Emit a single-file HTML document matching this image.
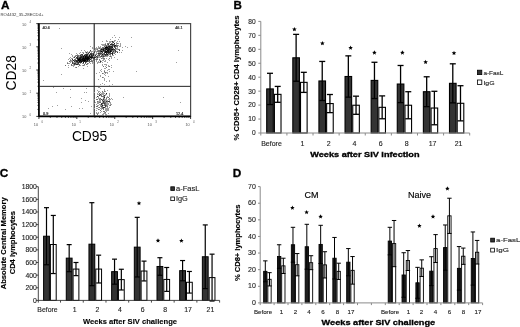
<!DOCTYPE html>
<html><head><meta charset="utf-8"><style>
html,body{margin:0;padding:0;background:#fff;}
svg{display:block;font-family:"Liberation Sans", sans-serif;filter:blur(0.35px);}
</style></head><body>
<svg width="520" height="327" viewBox="0 0 520 327">
<rect width="520" height="327" fill="#fff"/>
<rect x="266.71" y="88.92" width="6.60" height="44.08" fill="#333" stroke="#000" stroke-width="1.1"/>
<line x1="270.01" y1="73.29" x2="270.01" y2="104.54" stroke="#000" stroke-width="1.3"/>
<line x1="267.01" y1="73.29" x2="273.01" y2="73.29" stroke="#000" stroke-width="1.3"/>
<line x1="267.01" y1="104.54" x2="273.01" y2="104.54" stroke="#000" stroke-width="1.3"/>
<rect x="274.41" y="94.36" width="6.60" height="38.64" fill="#fff" stroke="#000" stroke-width="1.1"/>
<line x1="277.71" y1="86.41" x2="277.71" y2="102.31" stroke="#000" stroke-width="1.3"/>
<line x1="274.71" y1="86.41" x2="280.71" y2="86.41" stroke="#000" stroke-width="1.3"/>
<line x1="274.71" y1="102.31" x2="280.71" y2="102.31" stroke="#000" stroke-width="1.3"/>
<rect x="292.82" y="57.81" width="6.60" height="75.19" fill="#333" stroke="#000" stroke-width="1.1"/>
<line x1="296.12" y1="34.37" x2="296.12" y2="81.25" stroke="#000" stroke-width="1.3"/>
<line x1="293.12" y1="34.37" x2="299.12" y2="34.37" stroke="#000" stroke-width="1.3"/>
<line x1="293.12" y1="81.25" x2="299.12" y2="81.25" stroke="#000" stroke-width="1.3"/>
<rect x="300.52" y="82.36" width="6.60" height="50.64" fill="#fff" stroke="#000" stroke-width="1.1"/>
<line x1="303.82" y1="72.32" x2="303.82" y2="92.41" stroke="#000" stroke-width="1.3"/>
<line x1="300.82" y1="72.32" x2="306.82" y2="72.32" stroke="#000" stroke-width="1.3"/>
<line x1="300.82" y1="92.41" x2="306.82" y2="92.41" stroke="#000" stroke-width="1.3"/>
<rect x="318.93" y="80.97" width="6.60" height="52.03" fill="#333" stroke="#000" stroke-width="1.1"/>
<line x1="322.23" y1="61.44" x2="322.23" y2="100.50" stroke="#000" stroke-width="1.3"/>
<line x1="319.23" y1="61.44" x2="325.23" y2="61.44" stroke="#000" stroke-width="1.3"/>
<line x1="319.23" y1="100.50" x2="325.23" y2="100.50" stroke="#000" stroke-width="1.3"/>
<rect x="326.63" y="103.57" width="6.60" height="29.43" fill="#fff" stroke="#000" stroke-width="1.1"/>
<line x1="329.93" y1="94.50" x2="329.93" y2="112.63" stroke="#000" stroke-width="1.3"/>
<line x1="326.93" y1="94.50" x2="332.93" y2="94.50" stroke="#000" stroke-width="1.3"/>
<line x1="326.93" y1="112.63" x2="332.93" y2="112.63" stroke="#000" stroke-width="1.3"/>
<rect x="345.04" y="76.50" width="6.60" height="56.50" fill="#333" stroke="#000" stroke-width="1.1"/>
<line x1="348.34" y1="55.86" x2="348.34" y2="97.15" stroke="#000" stroke-width="1.3"/>
<line x1="345.34" y1="55.86" x2="351.34" y2="55.86" stroke="#000" stroke-width="1.3"/>
<line x1="345.34" y1="97.15" x2="351.34" y2="97.15" stroke="#000" stroke-width="1.3"/>
<rect x="352.74" y="105.24" width="6.60" height="27.76" fill="#fff" stroke="#000" stroke-width="1.1"/>
<line x1="356.04" y1="96.17" x2="356.04" y2="114.31" stroke="#000" stroke-width="1.3"/>
<line x1="353.04" y1="96.17" x2="359.04" y2="96.17" stroke="#000" stroke-width="1.3"/>
<line x1="353.04" y1="114.31" x2="359.04" y2="114.31" stroke="#000" stroke-width="1.3"/>
<rect x="371.16" y="80.41" width="6.60" height="52.59" fill="#333" stroke="#000" stroke-width="1.1"/>
<line x1="374.46" y1="62.27" x2="374.46" y2="98.54" stroke="#000" stroke-width="1.3"/>
<line x1="371.46" y1="62.27" x2="377.46" y2="62.27" stroke="#000" stroke-width="1.3"/>
<line x1="371.46" y1="98.54" x2="377.46" y2="98.54" stroke="#000" stroke-width="1.3"/>
<rect x="378.86" y="107.33" width="6.60" height="25.67" fill="#fff" stroke="#000" stroke-width="1.1"/>
<line x1="382.16" y1="95.89" x2="382.16" y2="118.77" stroke="#000" stroke-width="1.3"/>
<line x1="379.16" y1="95.89" x2="385.16" y2="95.89" stroke="#000" stroke-width="1.3"/>
<line x1="379.16" y1="118.77" x2="385.16" y2="118.77" stroke="#000" stroke-width="1.3"/>
<rect x="397.27" y="84.04" width="6.60" height="48.96" fill="#333" stroke="#000" stroke-width="1.1"/>
<line x1="400.57" y1="65.48" x2="400.57" y2="102.59" stroke="#000" stroke-width="1.3"/>
<line x1="397.57" y1="65.48" x2="403.57" y2="65.48" stroke="#000" stroke-width="1.3"/>
<line x1="397.57" y1="102.59" x2="403.57" y2="102.59" stroke="#000" stroke-width="1.3"/>
<rect x="404.97" y="105.24" width="6.60" height="27.76" fill="#fff" stroke="#000" stroke-width="1.1"/>
<line x1="408.27" y1="91.71" x2="408.27" y2="118.77" stroke="#000" stroke-width="1.3"/>
<line x1="405.27" y1="91.71" x2="411.27" y2="91.71" stroke="#000" stroke-width="1.3"/>
<line x1="405.27" y1="118.77" x2="411.27" y2="118.77" stroke="#000" stroke-width="1.3"/>
<rect x="423.38" y="91.71" width="6.60" height="41.29" fill="#333" stroke="#000" stroke-width="1.1"/>
<line x1="426.68" y1="76.78" x2="426.68" y2="106.63" stroke="#000" stroke-width="1.3"/>
<line x1="423.68" y1="76.78" x2="429.68" y2="76.78" stroke="#000" stroke-width="1.3"/>
<line x1="423.68" y1="106.63" x2="429.68" y2="106.63" stroke="#000" stroke-width="1.3"/>
<rect x="431.08" y="108.03" width="6.60" height="24.97" fill="#fff" stroke="#000" stroke-width="1.1"/>
<line x1="434.38" y1="91.29" x2="434.38" y2="124.77" stroke="#000" stroke-width="1.3"/>
<line x1="431.38" y1="91.29" x2="437.38" y2="91.29" stroke="#000" stroke-width="1.3"/>
<line x1="431.38" y1="124.77" x2="437.38" y2="124.77" stroke="#000" stroke-width="1.3"/>
<rect x="449.49" y="83.34" width="6.60" height="49.66" fill="#333" stroke="#000" stroke-width="1.1"/>
<line x1="452.79" y1="63.81" x2="452.79" y2="102.87" stroke="#000" stroke-width="1.3"/>
<line x1="449.79" y1="63.81" x2="455.79" y2="63.81" stroke="#000" stroke-width="1.3"/>
<line x1="449.79" y1="102.87" x2="455.79" y2="102.87" stroke="#000" stroke-width="1.3"/>
<rect x="457.19" y="103.29" width="6.60" height="29.71" fill="#fff" stroke="#000" stroke-width="1.1"/>
<line x1="460.49" y1="85.71" x2="460.49" y2="120.86" stroke="#000" stroke-width="1.3"/>
<line x1="457.49" y1="85.71" x2="463.49" y2="85.71" stroke="#000" stroke-width="1.3"/>
<line x1="457.49" y1="120.86" x2="463.49" y2="120.86" stroke="#000" stroke-width="1.3"/>
<line x1="260.80" y1="21.40" x2="260.80" y2="135.50" stroke="#8a8a8a" stroke-width="1"/>
<line x1="260.80" y1="133.00" x2="469.70" y2="133.00" stroke="#8a8a8a" stroke-width="1"/>
<line x1="258.30" y1="133.00" x2="260.80" y2="133.00" stroke="#8a8a8a" stroke-width="1"/>
<text x="255.60" y="135.38" font-size="6.6" text-anchor="end" fill="#222" stroke="#222" stroke-width="0.12">0</text>
<line x1="258.30" y1="119.05" x2="260.80" y2="119.05" stroke="#8a8a8a" stroke-width="1"/>
<text x="255.60" y="121.43" font-size="6.6" text-anchor="end" fill="#222" stroke="#222" stroke-width="0.12">10</text>
<line x1="258.30" y1="105.10" x2="260.80" y2="105.10" stroke="#8a8a8a" stroke-width="1"/>
<text x="255.60" y="107.48" font-size="6.6" text-anchor="end" fill="#222" stroke="#222" stroke-width="0.12">20</text>
<line x1="258.30" y1="91.15" x2="260.80" y2="91.15" stroke="#8a8a8a" stroke-width="1"/>
<text x="255.60" y="93.53" font-size="6.6" text-anchor="end" fill="#222" stroke="#222" stroke-width="0.12">30</text>
<line x1="258.30" y1="77.20" x2="260.80" y2="77.20" stroke="#8a8a8a" stroke-width="1"/>
<text x="255.60" y="79.58" font-size="6.6" text-anchor="end" fill="#222" stroke="#222" stroke-width="0.12">40</text>
<line x1="258.30" y1="63.25" x2="260.80" y2="63.25" stroke="#8a8a8a" stroke-width="1"/>
<text x="255.60" y="65.63" font-size="6.6" text-anchor="end" fill="#222" stroke="#222" stroke-width="0.12">50</text>
<line x1="258.30" y1="49.30" x2="260.80" y2="49.30" stroke="#8a8a8a" stroke-width="1"/>
<text x="255.60" y="51.68" font-size="6.6" text-anchor="end" fill="#222" stroke="#222" stroke-width="0.12">60</text>
<line x1="258.30" y1="35.35" x2="260.80" y2="35.35" stroke="#8a8a8a" stroke-width="1"/>
<text x="255.60" y="37.73" font-size="6.6" text-anchor="end" fill="#222" stroke="#222" stroke-width="0.12">70</text>
<line x1="258.30" y1="21.40" x2="260.80" y2="21.40" stroke="#8a8a8a" stroke-width="1"/>
<text x="255.60" y="23.78" font-size="6.6" text-anchor="end" fill="#222" stroke="#222" stroke-width="0.12">80</text>
<line x1="286.91" y1="133.00" x2="286.91" y2="135.50" stroke="#8a8a8a" stroke-width="1"/>
<line x1="313.02" y1="133.00" x2="313.02" y2="135.50" stroke="#8a8a8a" stroke-width="1"/>
<line x1="339.14" y1="133.00" x2="339.14" y2="135.50" stroke="#8a8a8a" stroke-width="1"/>
<line x1="365.25" y1="133.00" x2="365.25" y2="135.50" stroke="#8a8a8a" stroke-width="1"/>
<line x1="391.36" y1="133.00" x2="391.36" y2="135.50" stroke="#8a8a8a" stroke-width="1"/>
<line x1="417.48" y1="133.00" x2="417.48" y2="135.50" stroke="#8a8a8a" stroke-width="1"/>
<line x1="443.59" y1="133.00" x2="443.59" y2="135.50" stroke="#8a8a8a" stroke-width="1"/>
<line x1="469.70" y1="133.00" x2="469.70" y2="135.50" stroke="#8a8a8a" stroke-width="1"/>
<text x="271.50" y="146.20" font-size="7.0" text-anchor="middle" fill="#222" stroke="#222" stroke-width="0.12">Before</text>
<text x="302.40" y="146.20" font-size="7.0" text-anchor="middle" fill="#222" stroke="#222" stroke-width="0.12">1</text>
<text x="328.60" y="146.20" font-size="7.0" text-anchor="middle" fill="#222" stroke="#222" stroke-width="0.12">2</text>
<text x="354.40" y="146.20" font-size="7.0" text-anchor="middle" fill="#222" stroke="#222" stroke-width="0.12">4</text>
<text x="380.60" y="146.20" font-size="7.0" text-anchor="middle" fill="#222" stroke="#222" stroke-width="0.12">6</text>
<text x="406.60" y="146.20" font-size="7.0" text-anchor="middle" fill="#222" stroke="#222" stroke-width="0.12">8</text>
<text x="432.60" y="146.20" font-size="7.0" text-anchor="middle" fill="#222" stroke="#222" stroke-width="0.12">17</text>
<text x="458.60" y="146.20" font-size="7.0" text-anchor="middle" fill="#222" stroke="#222" stroke-width="0.12">21</text>
<polygon points="294.40,26.90 295.03,28.43 296.68,28.56 295.43,29.63 295.81,31.24 294.40,30.38 292.99,31.24 293.37,29.63 292.12,28.56 293.77,28.43" fill="#000"/>
<polygon points="322.40,40.90 323.03,42.43 324.68,42.56 323.43,43.63 323.81,45.24 322.40,44.38 320.99,45.24 321.37,43.63 320.12,42.56 321.77,42.43" fill="#000"/>
<polygon points="350.60,45.50 351.23,47.03 352.88,47.16 351.63,48.23 352.01,49.84 350.60,48.98 349.19,49.84 349.57,48.23 348.32,47.16 349.97,47.03" fill="#000"/>
<polygon points="374.40,50.30 375.03,51.83 376.68,51.96 375.43,53.03 375.81,54.64 374.40,53.78 372.99,54.64 373.37,53.03 372.12,51.96 373.77,51.83" fill="#000"/>
<polygon points="402.40,50.30 403.03,51.83 404.68,51.96 403.43,53.03 403.81,54.64 402.40,53.78 400.99,54.64 401.37,53.03 400.12,51.96 401.77,51.83" fill="#000"/>
<polygon points="425.60,59.70 426.23,61.23 427.88,61.36 426.63,62.43 427.01,64.04 425.60,63.18 424.19,64.04 424.57,62.43 423.32,61.36 424.97,61.23" fill="#000"/>
<polygon points="454.00,50.70 454.63,52.23 456.28,52.36 455.03,53.43 455.41,55.04 454.00,54.18 452.59,55.04 452.97,53.43 451.72,52.36 453.37,52.23" fill="#000"/>
<rect x="43.60" y="236.22" width="5.80" height="64.18" fill="#333" stroke="#000" stroke-width="1.0"/>
<line x1="46.50" y1="207.67" x2="46.50" y2="264.77" stroke="#000" stroke-width="1.2"/>
<line x1="44.00" y1="207.67" x2="49.00" y2="207.67" stroke="#000" stroke-width="1.2"/>
<line x1="44.00" y1="264.77" x2="49.00" y2="264.77" stroke="#000" stroke-width="1.2"/>
<rect x="50.40" y="244.50" width="5.80" height="55.90" fill="#fff" stroke="#000" stroke-width="1.0"/>
<line x1="53.30" y1="215.44" x2="53.30" y2="273.55" stroke="#000" stroke-width="1.2"/>
<line x1="50.80" y1="215.44" x2="55.80" y2="215.44" stroke="#000" stroke-width="1.2"/>
<line x1="50.80" y1="273.55" x2="55.80" y2="273.55" stroke="#000" stroke-width="1.2"/>
<rect x="66.28" y="258.14" width="5.80" height="42.26" fill="#333" stroke="#000" stroke-width="1.0"/>
<line x1="69.18" y1="244.62" x2="69.18" y2="271.66" stroke="#000" stroke-width="1.2"/>
<line x1="66.68" y1="244.62" x2="71.68" y2="244.62" stroke="#000" stroke-width="1.2"/>
<line x1="66.68" y1="271.66" x2="71.68" y2="271.66" stroke="#000" stroke-width="1.2"/>
<rect x="73.08" y="269.07" width="5.80" height="31.33" fill="#fff" stroke="#000" stroke-width="1.0"/>
<line x1="75.98" y1="262.50" x2="75.98" y2="275.64" stroke="#000" stroke-width="1.2"/>
<line x1="73.48" y1="262.50" x2="78.48" y2="262.50" stroke="#000" stroke-width="1.2"/>
<line x1="73.48" y1="275.64" x2="78.48" y2="275.64" stroke="#000" stroke-width="1.2"/>
<rect x="88.96" y="244.18" width="5.80" height="56.22" fill="#333" stroke="#000" stroke-width="1.0"/>
<line x1="91.86" y1="202.68" x2="91.86" y2="285.68" stroke="#000" stroke-width="1.2"/>
<line x1="89.36" y1="202.68" x2="94.36" y2="202.68" stroke="#000" stroke-width="1.2"/>
<line x1="89.36" y1="285.68" x2="94.36" y2="285.68" stroke="#000" stroke-width="1.2"/>
<rect x="95.76" y="269.07" width="5.80" height="31.33" fill="#fff" stroke="#000" stroke-width="1.0"/>
<line x1="98.66" y1="255.17" x2="98.66" y2="282.97" stroke="#000" stroke-width="1.2"/>
<line x1="96.16" y1="255.17" x2="101.16" y2="255.17" stroke="#000" stroke-width="1.2"/>
<line x1="96.16" y1="282.97" x2="101.16" y2="282.97" stroke="#000" stroke-width="1.2"/>
<rect x="111.64" y="271.66" width="5.80" height="28.74" fill="#333" stroke="#000" stroke-width="1.0"/>
<line x1="114.54" y1="259.15" x2="114.54" y2="284.17" stroke="#000" stroke-width="1.2"/>
<line x1="112.04" y1="259.15" x2="117.04" y2="259.15" stroke="#000" stroke-width="1.2"/>
<line x1="112.04" y1="284.17" x2="117.04" y2="284.17" stroke="#000" stroke-width="1.2"/>
<rect x="118.44" y="279.62" width="5.80" height="20.78" fill="#fff" stroke="#000" stroke-width="1.0"/>
<line x1="121.34" y1="269.26" x2="121.34" y2="289.98" stroke="#000" stroke-width="1.2"/>
<line x1="118.84" y1="269.26" x2="123.84" y2="269.26" stroke="#000" stroke-width="1.2"/>
<line x1="118.84" y1="289.98" x2="123.84" y2="289.98" stroke="#000" stroke-width="1.2"/>
<rect x="134.32" y="247.15" width="5.80" height="53.25" fill="#333" stroke="#000" stroke-width="1.0"/>
<line x1="137.22" y1="217.34" x2="137.22" y2="276.97" stroke="#000" stroke-width="1.2"/>
<line x1="134.72" y1="217.34" x2="139.72" y2="217.34" stroke="#000" stroke-width="1.2"/>
<line x1="134.72" y1="276.97" x2="139.72" y2="276.97" stroke="#000" stroke-width="1.2"/>
<rect x="141.12" y="271.03" width="5.80" height="29.37" fill="#fff" stroke="#000" stroke-width="1.0"/>
<line x1="144.02" y1="261.11" x2="144.02" y2="280.94" stroke="#000" stroke-width="1.2"/>
<line x1="141.52" y1="261.11" x2="146.52" y2="261.11" stroke="#000" stroke-width="1.2"/>
<line x1="141.52" y1="280.94" x2="146.52" y2="280.94" stroke="#000" stroke-width="1.2"/>
<rect x="157.00" y="266.48" width="5.80" height="33.92" fill="#333" stroke="#000" stroke-width="1.0"/>
<line x1="159.90" y1="257.70" x2="159.90" y2="275.26" stroke="#000" stroke-width="1.2"/>
<line x1="157.40" y1="257.70" x2="162.40" y2="257.70" stroke="#000" stroke-width="1.2"/>
<line x1="157.40" y1="275.26" x2="162.40" y2="275.26" stroke="#000" stroke-width="1.2"/>
<rect x="163.80" y="279.43" width="5.80" height="20.97" fill="#fff" stroke="#000" stroke-width="1.0"/>
<line x1="166.70" y1="267.49" x2="166.70" y2="291.37" stroke="#000" stroke-width="1.2"/>
<line x1="164.20" y1="267.49" x2="169.20" y2="267.49" stroke="#000" stroke-width="1.2"/>
<line x1="164.20" y1="291.37" x2="169.20" y2="291.37" stroke="#000" stroke-width="1.2"/>
<rect x="179.68" y="270.65" width="5.80" height="29.75" fill="#333" stroke="#000" stroke-width="1.0"/>
<line x1="182.58" y1="260.54" x2="182.58" y2="280.76" stroke="#000" stroke-width="1.2"/>
<line x1="180.08" y1="260.54" x2="185.08" y2="260.54" stroke="#000" stroke-width="1.2"/>
<line x1="180.08" y1="280.76" x2="185.08" y2="280.76" stroke="#000" stroke-width="1.2"/>
<rect x="186.48" y="282.27" width="5.80" height="18.13" fill="#fff" stroke="#000" stroke-width="1.0"/>
<line x1="189.38" y1="271.47" x2="189.38" y2="293.07" stroke="#000" stroke-width="1.2"/>
<line x1="186.88" y1="271.47" x2="191.88" y2="271.47" stroke="#000" stroke-width="1.2"/>
<line x1="186.88" y1="293.07" x2="191.88" y2="293.07" stroke="#000" stroke-width="1.2"/>
<rect x="202.36" y="256.75" width="5.80" height="43.65" fill="#333" stroke="#000" stroke-width="1.0"/>
<line x1="205.26" y1="224.92" x2="205.26" y2="288.59" stroke="#000" stroke-width="1.2"/>
<line x1="202.76" y1="224.92" x2="207.76" y2="224.92" stroke="#000" stroke-width="1.2"/>
<line x1="202.76" y1="288.59" x2="207.76" y2="288.59" stroke="#000" stroke-width="1.2"/>
<rect x="209.16" y="277.60" width="5.80" height="22.80" fill="#fff" stroke="#000" stroke-width="1.0"/>
<line x1="212.06" y1="254.16" x2="212.06" y2="301.03" stroke="#000" stroke-width="1.2"/>
<line x1="209.56" y1="254.16" x2="214.56" y2="254.16" stroke="#000" stroke-width="1.2"/>
<line x1="209.56" y1="301.03" x2="214.56" y2="301.03" stroke="#000" stroke-width="1.2"/>
<line x1="38.30" y1="186.70" x2="38.30" y2="302.60" stroke="#333" stroke-width="0.9"/>
<line x1="38.30" y1="300.40" x2="219.60" y2="300.40" stroke="#333" stroke-width="0.9"/>
<line x1="36.10" y1="300.40" x2="38.30" y2="300.40" stroke="#333" stroke-width="0.9"/>
<text x="36.80" y="302.85" font-size="6.8" text-anchor="end" fill="#222" stroke="#222" stroke-width="0.12">0</text>
<line x1="36.10" y1="287.77" x2="38.30" y2="287.77" stroke="#333" stroke-width="0.9"/>
<text x="36.80" y="290.21" font-size="6.8" text-anchor="end" fill="#222" stroke="#222" stroke-width="0.12">200</text>
<line x1="36.10" y1="275.13" x2="38.30" y2="275.13" stroke="#333" stroke-width="0.9"/>
<text x="36.80" y="277.58" font-size="6.8" text-anchor="end" fill="#222" stroke="#222" stroke-width="0.12">400</text>
<line x1="36.10" y1="262.50" x2="38.30" y2="262.50" stroke="#333" stroke-width="0.9"/>
<text x="36.80" y="264.95" font-size="6.8" text-anchor="end" fill="#222" stroke="#222" stroke-width="0.12">600</text>
<line x1="36.10" y1="249.87" x2="38.30" y2="249.87" stroke="#333" stroke-width="0.9"/>
<text x="36.80" y="252.31" font-size="6.8" text-anchor="end" fill="#222" stroke="#222" stroke-width="0.12">800</text>
<line x1="36.10" y1="237.23" x2="38.30" y2="237.23" stroke="#333" stroke-width="0.9"/>
<text x="36.80" y="239.68" font-size="6.8" text-anchor="end" fill="#222" stroke="#222" stroke-width="0.12">1000</text>
<line x1="36.10" y1="224.60" x2="38.30" y2="224.60" stroke="#333" stroke-width="0.9"/>
<text x="36.80" y="227.05" font-size="6.8" text-anchor="end" fill="#222" stroke="#222" stroke-width="0.12">1200</text>
<line x1="36.10" y1="211.97" x2="38.30" y2="211.97" stroke="#333" stroke-width="0.9"/>
<text x="36.80" y="214.41" font-size="6.8" text-anchor="end" fill="#222" stroke="#222" stroke-width="0.12">1400</text>
<line x1="36.10" y1="199.33" x2="38.30" y2="199.33" stroke="#333" stroke-width="0.9"/>
<text x="36.80" y="201.78" font-size="6.8" text-anchor="end" fill="#222" stroke="#222" stroke-width="0.12">1600</text>
<line x1="36.10" y1="186.70" x2="38.30" y2="186.70" stroke="#333" stroke-width="0.9"/>
<text x="36.80" y="189.15" font-size="6.8" text-anchor="end" fill="#222" stroke="#222" stroke-width="0.12">1800</text>
<line x1="60.52" y1="300.40" x2="60.52" y2="302.60" stroke="#333" stroke-width="0.9"/>
<line x1="83.25" y1="300.40" x2="83.25" y2="302.60" stroke="#333" stroke-width="0.9"/>
<line x1="105.98" y1="300.40" x2="105.98" y2="302.60" stroke="#333" stroke-width="0.9"/>
<line x1="128.70" y1="300.40" x2="128.70" y2="302.60" stroke="#333" stroke-width="0.9"/>
<line x1="151.43" y1="300.40" x2="151.43" y2="302.60" stroke="#333" stroke-width="0.9"/>
<line x1="174.15" y1="300.40" x2="174.15" y2="302.60" stroke="#333" stroke-width="0.9"/>
<line x1="196.88" y1="300.40" x2="196.88" y2="302.60" stroke="#333" stroke-width="0.9"/>
<line x1="219.60" y1="300.40" x2="219.60" y2="302.60" stroke="#333" stroke-width="0.9"/>
<text x="47.50" y="312.30" font-size="6.9" text-anchor="middle" fill="#222" stroke="#222" stroke-width="0.12">Before</text>
<text x="74.60" y="312.30" font-size="6.9" text-anchor="middle" fill="#222" stroke="#222" stroke-width="0.12">1</text>
<text x="97.40" y="312.30" font-size="6.9" text-anchor="middle" fill="#222" stroke="#222" stroke-width="0.12">2</text>
<text x="120.00" y="312.30" font-size="6.9" text-anchor="middle" fill="#222" stroke="#222" stroke-width="0.12">4</text>
<text x="142.60" y="312.30" font-size="6.9" text-anchor="middle" fill="#222" stroke="#222" stroke-width="0.12">6</text>
<text x="165.20" y="312.30" font-size="6.9" text-anchor="middle" fill="#222" stroke="#222" stroke-width="0.12">8</text>
<text x="188.00" y="312.30" font-size="6.9" text-anchor="middle" fill="#222" stroke="#222" stroke-width="0.12">17</text>
<text x="210.40" y="312.30" font-size="6.9" text-anchor="middle" fill="#222" stroke="#222" stroke-width="0.12">21</text>
<polygon points="139.00,200.95 139.62,202.44 141.23,202.57 140.01,203.63 140.38,205.20 139.00,204.36 137.62,205.20 137.99,203.63 136.77,202.57 138.38,202.44" fill="#000"/>
<polygon points="158.00,238.35 158.62,239.84 160.23,239.97 159.01,241.03 159.38,242.60 158.00,241.76 156.62,242.60 156.99,241.03 155.77,239.97 157.38,239.84" fill="#000"/>
<polygon points="181.40,238.45 182.02,239.94 183.63,240.07 182.41,241.13 182.78,242.70 181.40,241.86 180.02,242.70 180.39,241.13 179.17,240.07 180.78,239.94" fill="#000"/>
<rect x="263.65" y="271.33" width="3.30" height="31.57" fill="#1e1e1e" stroke="#000" stroke-width="0.9"/>
<line x1="265.30" y1="260.87" x2="265.30" y2="281.80" stroke="#000" stroke-width="1.0"/>
<line x1="263.10" y1="260.87" x2="267.50" y2="260.87" stroke="#000" stroke-width="1.0"/>
<line x1="263.10" y1="281.80" x2="267.50" y2="281.80" stroke="#000" stroke-width="1.0"/>
<rect x="267.85" y="279.31" width="3.30" height="23.59" fill="#fff" stroke="#000" stroke-width="0.9"/>
<line x1="269.50" y1="272.66" x2="269.50" y2="285.95" stroke="#000" stroke-width="1.0"/>
<line x1="267.30" y1="272.66" x2="271.70" y2="272.66" stroke="#000" stroke-width="1.0"/>
<line x1="267.30" y1="285.95" x2="271.70" y2="285.95" stroke="#000" stroke-width="1.0"/>
<rect x="277.49" y="256.55" width="3.30" height="46.35" fill="#1e1e1e" stroke="#000" stroke-width="0.9"/>
<line x1="279.14" y1="244.75" x2="279.14" y2="268.34" stroke="#000" stroke-width="1.0"/>
<line x1="276.94" y1="244.75" x2="281.34" y2="244.75" stroke="#000" stroke-width="1.0"/>
<line x1="276.94" y1="268.34" x2="281.34" y2="268.34" stroke="#000" stroke-width="1.0"/>
<rect x="281.69" y="265.85" width="3.30" height="37.05" fill="#fff" stroke="#000" stroke-width="0.9"/>
<line x1="283.34" y1="258.21" x2="283.34" y2="273.49" stroke="#000" stroke-width="1.0"/>
<line x1="281.14" y1="258.21" x2="285.54" y2="258.21" stroke="#000" stroke-width="1.0"/>
<line x1="281.14" y1="273.49" x2="285.54" y2="273.49" stroke="#000" stroke-width="1.0"/>
<rect x="291.33" y="244.75" width="3.30" height="58.15" fill="#1e1e1e" stroke="#000" stroke-width="0.9"/>
<line x1="292.98" y1="227.30" x2="292.98" y2="262.19" stroke="#000" stroke-width="1.0"/>
<line x1="290.78" y1="227.30" x2="295.18" y2="227.30" stroke="#000" stroke-width="1.0"/>
<line x1="290.78" y1="262.19" x2="295.18" y2="262.19" stroke="#000" stroke-width="1.0"/>
<rect x="295.53" y="264.69" width="3.30" height="38.21" fill="#fff" stroke="#000" stroke-width="0.9"/>
<line x1="297.18" y1="253.56" x2="297.18" y2="275.82" stroke="#000" stroke-width="1.0"/>
<line x1="294.98" y1="253.56" x2="299.38" y2="253.56" stroke="#000" stroke-width="1.0"/>
<line x1="294.98" y1="275.82" x2="299.38" y2="275.82" stroke="#000" stroke-width="1.0"/>
<rect x="305.17" y="246.74" width="3.30" height="56.16" fill="#1e1e1e" stroke="#000" stroke-width="0.9"/>
<line x1="306.82" y1="224.31" x2="306.82" y2="269.17" stroke="#000" stroke-width="1.0"/>
<line x1="304.62" y1="224.31" x2="309.02" y2="224.31" stroke="#000" stroke-width="1.0"/>
<line x1="304.62" y1="269.17" x2="309.02" y2="269.17" stroke="#000" stroke-width="1.0"/>
<rect x="309.37" y="262.69" width="3.30" height="40.21" fill="#fff" stroke="#000" stroke-width="0.9"/>
<line x1="311.02" y1="255.72" x2="311.02" y2="269.67" stroke="#000" stroke-width="1.0"/>
<line x1="308.82" y1="255.72" x2="313.22" y2="255.72" stroke="#000" stroke-width="1.0"/>
<line x1="308.82" y1="269.67" x2="313.22" y2="269.67" stroke="#000" stroke-width="1.0"/>
<rect x="319.01" y="244.42" width="3.30" height="58.48" fill="#1e1e1e" stroke="#000" stroke-width="0.9"/>
<line x1="320.66" y1="225.31" x2="320.66" y2="263.52" stroke="#000" stroke-width="1.0"/>
<line x1="318.46" y1="225.31" x2="322.86" y2="225.31" stroke="#000" stroke-width="1.0"/>
<line x1="318.46" y1="263.52" x2="322.86" y2="263.52" stroke="#000" stroke-width="1.0"/>
<rect x="323.21" y="264.85" width="3.30" height="38.05" fill="#fff" stroke="#000" stroke-width="0.9"/>
<line x1="324.86" y1="251.73" x2="324.86" y2="277.98" stroke="#000" stroke-width="1.0"/>
<line x1="322.66" y1="251.73" x2="327.06" y2="251.73" stroke="#000" stroke-width="1.0"/>
<line x1="322.66" y1="277.98" x2="327.06" y2="277.98" stroke="#000" stroke-width="1.0"/>
<rect x="332.85" y="258.21" width="3.30" height="44.69" fill="#1e1e1e" stroke="#000" stroke-width="0.9"/>
<line x1="334.50" y1="237.44" x2="334.50" y2="278.98" stroke="#000" stroke-width="1.0"/>
<line x1="332.30" y1="237.44" x2="336.70" y2="237.44" stroke="#000" stroke-width="1.0"/>
<line x1="332.30" y1="278.98" x2="336.70" y2="278.98" stroke="#000" stroke-width="1.0"/>
<rect x="337.05" y="271.33" width="3.30" height="31.57" fill="#fff" stroke="#000" stroke-width="0.9"/>
<line x1="338.70" y1="263.19" x2="338.70" y2="279.47" stroke="#000" stroke-width="1.0"/>
<line x1="336.50" y1="263.19" x2="340.90" y2="263.19" stroke="#000" stroke-width="1.0"/>
<line x1="336.50" y1="279.47" x2="340.90" y2="279.47" stroke="#000" stroke-width="1.0"/>
<rect x="346.69" y="262.19" width="3.30" height="40.70" fill="#1e1e1e" stroke="#000" stroke-width="0.9"/>
<line x1="348.34" y1="248.57" x2="348.34" y2="275.82" stroke="#000" stroke-width="1.0"/>
<line x1="346.14" y1="248.57" x2="350.54" y2="248.57" stroke="#000" stroke-width="1.0"/>
<line x1="346.14" y1="275.82" x2="350.54" y2="275.82" stroke="#000" stroke-width="1.0"/>
<rect x="350.89" y="270.34" width="3.30" height="32.56" fill="#fff" stroke="#000" stroke-width="0.9"/>
<line x1="352.54" y1="256.55" x2="352.54" y2="284.13" stroke="#000" stroke-width="1.0"/>
<line x1="350.34" y1="256.55" x2="354.74" y2="256.55" stroke="#000" stroke-width="1.0"/>
<line x1="350.34" y1="284.13" x2="354.74" y2="284.13" stroke="#000" stroke-width="1.0"/>
<rect x="388.21" y="241.09" width="3.30" height="61.81" fill="#1e1e1e" stroke="#000" stroke-width="0.9"/>
<line x1="389.86" y1="227.30" x2="389.86" y2="254.88" stroke="#000" stroke-width="1.0"/>
<line x1="387.66" y1="227.30" x2="392.06" y2="227.30" stroke="#000" stroke-width="1.0"/>
<line x1="387.66" y1="254.88" x2="392.06" y2="254.88" stroke="#000" stroke-width="1.0"/>
<rect x="392.41" y="243.59" width="3.30" height="59.31" fill="#fff" stroke="#000" stroke-width="0.9"/>
<line x1="394.06" y1="220.49" x2="394.06" y2="266.68" stroke="#000" stroke-width="1.0"/>
<line x1="391.86" y1="220.49" x2="396.26" y2="220.49" stroke="#000" stroke-width="1.0"/>
<line x1="391.86" y1="266.68" x2="396.26" y2="266.68" stroke="#000" stroke-width="1.0"/>
<rect x="402.05" y="274.99" width="3.30" height="27.91" fill="#1e1e1e" stroke="#000" stroke-width="0.9"/>
<line x1="403.70" y1="252.72" x2="403.70" y2="297.25" stroke="#000" stroke-width="1.0"/>
<line x1="401.50" y1="252.72" x2="405.90" y2="252.72" stroke="#000" stroke-width="1.0"/>
<line x1="401.50" y1="297.25" x2="405.90" y2="297.25" stroke="#000" stroke-width="1.0"/>
<rect x="406.25" y="260.53" width="3.30" height="42.37" fill="#fff" stroke="#000" stroke-width="0.9"/>
<line x1="407.90" y1="250.56" x2="407.90" y2="270.50" stroke="#000" stroke-width="1.0"/>
<line x1="405.70" y1="250.56" x2="410.10" y2="250.56" stroke="#000" stroke-width="1.0"/>
<line x1="405.70" y1="270.50" x2="410.10" y2="270.50" stroke="#000" stroke-width="1.0"/>
<rect x="415.89" y="282.80" width="3.30" height="20.10" fill="#1e1e1e" stroke="#000" stroke-width="0.9"/>
<line x1="417.54" y1="267.35" x2="417.54" y2="298.25" stroke="#000" stroke-width="1.0"/>
<line x1="415.34" y1="267.35" x2="419.74" y2="267.35" stroke="#000" stroke-width="1.0"/>
<line x1="415.34" y1="298.25" x2="419.74" y2="298.25" stroke="#000" stroke-width="1.0"/>
<rect x="420.09" y="268.18" width="3.30" height="34.72" fill="#fff" stroke="#000" stroke-width="0.9"/>
<line x1="421.74" y1="259.87" x2="421.74" y2="276.48" stroke="#000" stroke-width="1.0"/>
<line x1="419.54" y1="259.87" x2="423.94" y2="259.87" stroke="#000" stroke-width="1.0"/>
<line x1="419.54" y1="276.48" x2="423.94" y2="276.48" stroke="#000" stroke-width="1.0"/>
<rect x="429.73" y="271.17" width="3.30" height="31.73" fill="#1e1e1e" stroke="#000" stroke-width="0.9"/>
<line x1="431.38" y1="256.71" x2="431.38" y2="285.62" stroke="#000" stroke-width="1.0"/>
<line x1="429.18" y1="256.71" x2="433.58" y2="256.71" stroke="#000" stroke-width="1.0"/>
<line x1="429.18" y1="285.62" x2="433.58" y2="285.62" stroke="#000" stroke-width="1.0"/>
<rect x="433.93" y="248.57" width="3.30" height="54.33" fill="#fff" stroke="#000" stroke-width="0.9"/>
<line x1="435.58" y1="234.62" x2="435.58" y2="262.53" stroke="#000" stroke-width="1.0"/>
<line x1="433.38" y1="234.62" x2="437.78" y2="234.62" stroke="#000" stroke-width="1.0"/>
<line x1="433.38" y1="262.53" x2="437.78" y2="262.53" stroke="#000" stroke-width="1.0"/>
<rect x="443.57" y="247.57" width="3.30" height="55.33" fill="#1e1e1e" stroke="#000" stroke-width="0.9"/>
<line x1="445.22" y1="224.98" x2="445.22" y2="270.17" stroke="#000" stroke-width="1.0"/>
<line x1="443.02" y1="224.98" x2="447.42" y2="224.98" stroke="#000" stroke-width="1.0"/>
<line x1="443.02" y1="270.17" x2="447.42" y2="270.17" stroke="#000" stroke-width="1.0"/>
<rect x="447.77" y="215.84" width="3.30" height="87.06" fill="#fff" stroke="#000" stroke-width="0.9"/>
<line x1="449.42" y1="198.23" x2="449.42" y2="233.45" stroke="#000" stroke-width="1.0"/>
<line x1="447.22" y1="198.23" x2="451.62" y2="198.23" stroke="#000" stroke-width="1.0"/>
<line x1="447.22" y1="233.45" x2="451.62" y2="233.45" stroke="#000" stroke-width="1.0"/>
<rect x="457.41" y="268.34" width="3.30" height="34.56" fill="#1e1e1e" stroke="#000" stroke-width="0.9"/>
<line x1="459.06" y1="246.58" x2="459.06" y2="290.11" stroke="#000" stroke-width="1.0"/>
<line x1="456.86" y1="246.58" x2="461.26" y2="246.58" stroke="#000" stroke-width="1.0"/>
<line x1="456.86" y1="290.11" x2="461.26" y2="290.11" stroke="#000" stroke-width="1.0"/>
<rect x="461.61" y="256.21" width="3.30" height="46.69" fill="#fff" stroke="#000" stroke-width="0.9"/>
<line x1="463.26" y1="248.07" x2="463.26" y2="264.35" stroke="#000" stroke-width="1.0"/>
<line x1="461.06" y1="248.07" x2="465.46" y2="248.07" stroke="#000" stroke-width="1.0"/>
<line x1="461.06" y1="264.35" x2="465.46" y2="264.35" stroke="#000" stroke-width="1.0"/>
<rect x="471.25" y="258.54" width="3.30" height="44.36" fill="#1e1e1e" stroke="#000" stroke-width="0.9"/>
<line x1="472.90" y1="231.96" x2="472.90" y2="285.12" stroke="#000" stroke-width="1.0"/>
<line x1="470.70" y1="231.96" x2="475.10" y2="231.96" stroke="#000" stroke-width="1.0"/>
<line x1="470.70" y1="285.12" x2="475.10" y2="285.12" stroke="#000" stroke-width="1.0"/>
<rect x="475.45" y="252.23" width="3.30" height="50.67" fill="#fff" stroke="#000" stroke-width="0.9"/>
<line x1="477.10" y1="240.43" x2="477.10" y2="264.02" stroke="#000" stroke-width="1.0"/>
<line x1="474.90" y1="240.43" x2="479.30" y2="240.43" stroke="#000" stroke-width="1.0"/>
<line x1="474.90" y1="264.02" x2="479.30" y2="264.02" stroke="#000" stroke-width="1.0"/>
<line x1="260.20" y1="186.60" x2="260.20" y2="305.10" stroke="#8a8a8a" stroke-width="1"/>
<line x1="260.20" y1="302.90" x2="482.60" y2="302.90" stroke="#8a8a8a" stroke-width="1"/>
<line x1="258.00" y1="302.90" x2="260.20" y2="302.90" stroke="#8a8a8a" stroke-width="1"/>
<text x="255.80" y="305.00" font-size="7.0" text-anchor="end" fill="#222" stroke="#222" stroke-width="0.12">0</text>
<line x1="258.00" y1="286.29" x2="260.20" y2="286.29" stroke="#8a8a8a" stroke-width="1"/>
<text x="255.80" y="288.39" font-size="7.0" text-anchor="end" fill="#222" stroke="#222" stroke-width="0.12">10</text>
<line x1="258.00" y1="269.67" x2="260.20" y2="269.67" stroke="#8a8a8a" stroke-width="1"/>
<text x="255.80" y="271.77" font-size="7.0" text-anchor="end" fill="#222" stroke="#222" stroke-width="0.12">20</text>
<line x1="258.00" y1="253.06" x2="260.20" y2="253.06" stroke="#8a8a8a" stroke-width="1"/>
<text x="255.80" y="255.16" font-size="7.0" text-anchor="end" fill="#222" stroke="#222" stroke-width="0.12">30</text>
<line x1="258.00" y1="236.44" x2="260.20" y2="236.44" stroke="#8a8a8a" stroke-width="1"/>
<text x="255.80" y="238.54" font-size="7.0" text-anchor="end" fill="#222" stroke="#222" stroke-width="0.12">40</text>
<line x1="258.00" y1="219.83" x2="260.20" y2="219.83" stroke="#8a8a8a" stroke-width="1"/>
<text x="255.80" y="221.93" font-size="7.0" text-anchor="end" fill="#222" stroke="#222" stroke-width="0.12">50</text>
<line x1="258.00" y1="203.21" x2="260.20" y2="203.21" stroke="#8a8a8a" stroke-width="1"/>
<text x="255.80" y="205.31" font-size="7.0" text-anchor="end" fill="#222" stroke="#222" stroke-width="0.12">60</text>
<line x1="258.00" y1="186.60" x2="260.20" y2="186.60" stroke="#8a8a8a" stroke-width="1"/>
<text x="255.80" y="188.70" font-size="7.0" text-anchor="end" fill="#222" stroke="#222" stroke-width="0.12">70</text>
<line x1="274.10" y1="302.90" x2="274.10" y2="305.10" stroke="#8a8a8a" stroke-width="1"/>
<line x1="288.00" y1="302.90" x2="288.00" y2="305.10" stroke="#8a8a8a" stroke-width="1"/>
<line x1="301.90" y1="302.90" x2="301.90" y2="305.10" stroke="#8a8a8a" stroke-width="1"/>
<line x1="315.80" y1="302.90" x2="315.80" y2="305.10" stroke="#8a8a8a" stroke-width="1"/>
<line x1="329.70" y1="302.90" x2="329.70" y2="305.10" stroke="#8a8a8a" stroke-width="1"/>
<line x1="343.60" y1="302.90" x2="343.60" y2="305.10" stroke="#8a8a8a" stroke-width="1"/>
<line x1="357.50" y1="302.90" x2="357.50" y2="305.10" stroke="#8a8a8a" stroke-width="1"/>
<line x1="371.40" y1="302.90" x2="371.40" y2="305.10" stroke="#8a8a8a" stroke-width="1"/>
<line x1="385.30" y1="302.90" x2="385.30" y2="305.10" stroke="#8a8a8a" stroke-width="1"/>
<line x1="399.20" y1="302.90" x2="399.20" y2="305.10" stroke="#8a8a8a" stroke-width="1"/>
<line x1="413.10" y1="302.90" x2="413.10" y2="305.10" stroke="#8a8a8a" stroke-width="1"/>
<line x1="427.00" y1="302.90" x2="427.00" y2="305.10" stroke="#8a8a8a" stroke-width="1"/>
<line x1="440.90" y1="302.90" x2="440.90" y2="305.10" stroke="#8a8a8a" stroke-width="1"/>
<line x1="454.80" y1="302.90" x2="454.80" y2="305.10" stroke="#8a8a8a" stroke-width="1"/>
<line x1="468.70" y1="302.90" x2="468.70" y2="305.10" stroke="#8a8a8a" stroke-width="1"/>
<line x1="482.60" y1="302.90" x2="482.60" y2="305.10" stroke="#8a8a8a" stroke-width="1"/>
<text x="263.00" y="314.40" font-size="6.2" text-anchor="middle" fill="#222" stroke="#222" stroke-width="0.12">Before</text>
<text x="281.60" y="314.40" font-size="6.2" text-anchor="middle" fill="#222" stroke="#222" stroke-width="0.12">1</text>
<text x="295.40" y="314.40" font-size="6.2" text-anchor="middle" fill="#222" stroke="#222" stroke-width="0.12">2</text>
<text x="309.00" y="314.40" font-size="6.2" text-anchor="middle" fill="#222" stroke="#222" stroke-width="0.12">4</text>
<text x="323.00" y="314.40" font-size="6.2" text-anchor="middle" fill="#222" stroke="#222" stroke-width="0.12">6</text>
<text x="337.40" y="314.40" font-size="6.2" text-anchor="middle" fill="#222" stroke="#222" stroke-width="0.12">8</text>
<text x="351.00" y="314.40" font-size="6.2" text-anchor="middle" fill="#222" stroke="#222" stroke-width="0.12">17</text>
<text x="390.00" y="314.40" font-size="6.2" text-anchor="middle" fill="#222" stroke="#222" stroke-width="0.12">Before</text>
<text x="408.40" y="314.40" font-size="6.2" text-anchor="middle" fill="#222" stroke="#222" stroke-width="0.12">1</text>
<text x="421.60" y="314.40" font-size="6.2" text-anchor="middle" fill="#222" stroke="#222" stroke-width="0.12">2</text>
<text x="435.60" y="314.40" font-size="6.2" text-anchor="middle" fill="#222" stroke="#222" stroke-width="0.12">4</text>
<text x="449.60" y="314.40" font-size="6.2" text-anchor="middle" fill="#222" stroke="#222" stroke-width="0.12">6</text>
<text x="463.60" y="314.40" font-size="6.2" text-anchor="middle" fill="#222" stroke="#222" stroke-width="0.12">8</text>
<text x="478.00" y="314.40" font-size="6.2" text-anchor="middle" fill="#222" stroke="#222" stroke-width="0.12">17</text>
<polygon points="292.40,205.55 293.02,207.04 294.63,207.17 293.41,208.23 293.78,209.80 292.40,208.96 291.02,209.80 291.39,208.23 290.17,207.17 291.78,207.04" fill="#000"/>
<polygon points="306.60,209.95 307.22,211.44 308.83,211.57 307.61,212.63 307.98,214.20 306.60,213.36 305.22,214.20 305.59,212.63 304.37,211.57 305.98,211.44" fill="#000"/>
<polygon points="320.60,214.35 321.22,215.84 322.83,215.97 321.61,217.03 321.98,218.60 320.60,217.76 319.22,218.60 319.59,217.03 318.37,215.97 319.98,215.84" fill="#000"/>
<polygon points="419.40,223.55 420.02,225.04 421.63,225.17 420.41,226.23 420.78,227.80 419.40,226.96 418.02,227.80 418.39,226.23 417.17,225.17 418.78,225.04" fill="#000"/>
<polygon points="433.00,214.35 433.62,215.84 435.23,215.97 434.01,217.03 434.38,218.60 433.00,217.76 431.62,218.60 431.99,217.03 430.77,215.97 432.38,215.84" fill="#000"/>
<polygon points="447.40,186.35 448.02,187.84 449.63,187.97 448.41,189.03 448.78,190.60 447.40,189.76 446.02,190.60 446.39,189.03 445.17,187.97 446.78,187.84" fill="#000"/>
<text x="310.30" y="157.30" font-size="7.4" text-anchor="start" font-weight="bold" textLength="109.2" lengthAdjust="spacingAndGlyphs" stroke="#000" stroke-width="0.3">Weeks after SIV infection</text>
<text x="83.00" y="324.20" font-size="7.3" text-anchor="start" font-weight="bold" textLength="94" lengthAdjust="spacingAndGlyphs" stroke="#000" stroke-width="0.1">Weeks after SIV challenge</text>
<text x="321.60" y="324.80" font-size="7.5" text-anchor="start" font-weight="bold" textLength="113.6" lengthAdjust="spacingAndGlyphs" stroke="#000" stroke-width="0.3">Weeks after SIV challenge</text>
<text x="238.90" y="140.50" font-size="7.6" text-anchor="start" font-weight="bold" textLength="125" lengthAdjust="spacingAndGlyphs" transform="rotate(-90 238.90 140.50)" stroke="#000" stroke-width="0.15">% CD95+ CD28+ CD4 lymphocytes</text>
<text x="6.20" y="289.30" font-size="7.2" text-anchor="start" font-weight="bold" textLength="92" lengthAdjust="spacingAndGlyphs" transform="rotate(-90 6.20 289.30)" stroke="#000" stroke-width="0.15">Absolute Central Memory</text>
<text x="15.10" y="274.30" font-size="7.2" text-anchor="start" font-weight="bold" textLength="63.3" lengthAdjust="spacingAndGlyphs" transform="rotate(-90 15.10 274.30)" stroke="#000" stroke-width="0.15">CD4 lymphocytes</text>
<text x="240.20" y="281.00" font-size="7.4" text-anchor="start" font-weight="bold" textLength="76.4" lengthAdjust="spacingAndGlyphs" transform="rotate(-90 240.20 281.00)" stroke="#000" stroke-width="0.15">% CD8+ lymphocytes</text>
<text x="0.90" y="8.50" font-size="11.8" text-anchor="start" font-weight="bold" stroke="#000" stroke-width="0.3">A</text>
<text x="233.50" y="9.00" font-size="11.6" text-anchor="start" font-weight="bold" stroke="#000" stroke-width="0.3">B</text>
<text x="-0.30" y="177.40" font-size="11.8" text-anchor="start" font-weight="bold" stroke="#000" stroke-width="0.3">C</text>
<text x="232.80" y="176.80" font-size="11.8" text-anchor="start" font-weight="bold" stroke="#000" stroke-width="0.3">D</text>
<rect x="477.40" y="70.20" width="4.40" height="4.40" fill="#333" stroke="#000" stroke-width="0.8"/>
<text x="483.40" y="75.00" font-size="6.1" text-anchor="start" textLength="20.0" lengthAdjust="spacingAndGlyphs" fill="#222" stroke="#222" stroke-width="0.12">a-FasL</text>
<rect x="477.40" y="80.00" width="4.40" height="4.40" fill="#fff" stroke="#000" stroke-width="0.8"/>
<text x="483.40" y="84.80" font-size="6.1" text-anchor="start" textLength="11.2" lengthAdjust="spacingAndGlyphs" fill="#222" stroke="#222" stroke-width="0.12">IgG</text>
<rect x="170.80" y="186.80" width="3.60" height="3.60" fill="#333" stroke="#000" stroke-width="0.8"/>
<text x="176.00" y="190.80" font-size="6.4" text-anchor="start" textLength="23.4" lengthAdjust="spacingAndGlyphs" fill="#222" stroke="#222" stroke-width="0.12">a-FasL</text>
<rect x="170.80" y="197.00" width="3.60" height="3.60" fill="#fff" stroke="#000" stroke-width="0.8"/>
<text x="176.00" y="201.00" font-size="6.4" text-anchor="start" textLength="11.8" lengthAdjust="spacingAndGlyphs" fill="#222" stroke="#222" stroke-width="0.12">IgG</text>
<rect x="490.70" y="238.20" width="3.80" height="3.80" fill="#333" stroke="#000" stroke-width="0.8"/>
<text x="496.10" y="242.40" font-size="6.2" text-anchor="start" textLength="24.2" lengthAdjust="spacingAndGlyphs" fill="#222" stroke="#222" stroke-width="0.12">a-FasL</text>
<rect x="490.70" y="248.20" width="3.80" height="3.80" fill="#fff" stroke="#000" stroke-width="0.8"/>
<text x="496.10" y="252.40" font-size="6.2" text-anchor="start" textLength="13.0" lengthAdjust="spacingAndGlyphs" fill="#222" stroke="#222" stroke-width="0.12">IgG</text>
<text x="304.40" y="197.90" font-size="9.2" text-anchor="start" textLength="14" lengthAdjust="spacingAndGlyphs" stroke="#000" stroke-width="0.15">CM</text>
<text x="408.00" y="197.90" font-size="9.2" text-anchor="start" textLength="23" lengthAdjust="spacingAndGlyphs" stroke="#000" stroke-width="0.15">Naive</text>
<rect x="38.9" y="23.6" width="151.7" height="92.80000000000001" fill="none" stroke="#4a4a4a" stroke-width="1.2"/>
<line x1="38.90" y1="116.40" x2="190.60" y2="116.40" stroke="#000" stroke-width="1.6"/>
<line x1="38.90" y1="23.60" x2="38.90" y2="116.40" stroke="#000" stroke-width="1.6"/>
<line x1="94.20" y1="23.60" x2="94.20" y2="116.40" stroke="#222" stroke-width="1.1"/>
<line x1="38.90" y1="86.35" x2="190.60" y2="86.35" stroke="#222" stroke-width="1.0"/>
<path d="M78 59h1v1h-1zM90 57h1v1h-1zM86 58h1v1h-1zM87 59h1v1h-1zM85 58h1v1h-1zM87 58h1v1h-1zM78 60h1v1h-1zM83 56h1v1h-1zM87 57h1v1h-1zM83 58h1v1h-1zM79 61h1v1h-1zM84 59h1v1h-1zM82 59h1v1h-1zM88 58h1v1h-1zM81 61h1v1h-1zM85 57h1v1h-1zM88 57h1v1h-1zM101 51h1v1h-1zM84 60h1v1h-1zM85 60h1v1h-1zM85 56h1v1h-1zM83 60h1v1h-1zM80 60h1v1h-1zM89 55h1v1h-1zM79 59h1v1h-1zM107 47h1v1h-1zM107 50h1v1h-1zM105 52h1v1h-1zM106 49h1v1h-1zM106 47h1v1h-1zM110 51h1v1h-1zM105 47h1v1h-1zM106 51h1v1h-1z" fill="#000000"/>
<path d="M82 60h1v1h-1zM82 58h1v1h-1zM85 59h1v1h-1zM87 60h1v1h-1zM80 57h1v1h-1zM81 59h1v1h-1zM84 61h1v1h-1zM92 57h1v1h-1zM84 55h1v1h-1zM86 56h1v1h-1zM89 58h1v1h-1zM86 59h1v1h-1zM79 58h1v1h-1zM80 59h1v1h-1zM83 59h1v1h-1zM83 62h1v1h-1zM89 56h1v1h-1zM83 57h1v1h-1zM84 58h1v1h-1zM88 59h1v1h-1zM86 57h1v1h-1zM86 55h1v1h-1zM77 58h1v1h-1zM79 60h1v1h-1zM101 49h1v1h-1zM91 57h1v1h-1zM80 58h1v1h-1zM108 51h1v1h-1zM108 49h1v1h-1zM109 46h1v1h-1zM108 50h1v1h-1zM102 54h1v1h-1zM114 46h1v1h-1zM105 51h1v1h-1zM105 48h1v1h-1zM112 47h1v1h-1zM107 54h1v1h-1zM109 49h1v1h-1zM108 48h1v1h-1zM103 49h1v1h-1zM103 50h1v1h-1zM112 49h1v1h-1z" fill="#101010"/>
<path d="M87 56h1v1h-1zM81 57h1v1h-1zM81 56h1v1h-1zM81 60h1v1h-1zM77 61h1v1h-1zM73 60h1v1h-1zM93 54h1v1h-1zM76 61h1v1h-1zM94 57h1v1h-1zM91 56h1v1h-1zM86 61h1v1h-1zM87 54h1v1h-1zM91 55h1v1h-1zM80 61h1v1h-1zM106 48h1v1h-1zM107 52h1v1h-1zM109 48h1v1h-1zM112 54h1v1h-1zM110 44h1v1h-1zM107 48h1v1h-1zM111 46h1v1h-1zM114 43h1v1h-1zM107 51h1v1h-1zM108 46h1v1h-1zM108 52h1v1h-1zM111 49h1v1h-1zM115 45h1v1h-1zM110 50h1v1h-1zM106 53h1v1h-1zM106 52h1v1h-1zM109 52h1v1h-1zM112 53h1v1h-1zM109 47h1v1h-1zM104 97h1v1h-1zM102 105h1v1h-1zM106 93h1v1h-1zM103 107h1v1h-1z" fill="#202020"/>
<path d="M80 62h1v1h-1zM86 54h1v1h-1zM74 63h1v1h-1zM74 61h1v1h-1zM89 52h1v1h-1zM82 61h1v1h-1zM78 62h1v1h-1zM93 55h1v1h-1zM90 59h1v1h-1zM83 61h1v1h-1zM90 54h1v1h-1zM88 53h1v1h-1zM85 61h1v1h-1zM87 55h1v1h-1zM91 58h1v1h-1zM72 59h1v1h-1zM76 60h1v1h-1zM95 55h1v1h-1zM78 58h1v1h-1zM88 56h1v1h-1zM89 60h1v1h-1zM89 57h1v1h-1zM77 64h1v1h-1zM77 57h1v1h-1zM77 60h1v1h-1zM91 54h1v1h-1zM92 56h1v1h-1zM82 57h1v1h-1zM76 64h1v1h-1zM98 53h1v1h-1zM84 57h1v1h-1zM80 55h1v1h-1zM100 61h1v1h-1zM111 50h1v1h-1zM111 44h1v1h-1zM111 47h1v1h-1zM105 49h1v1h-1zM110 49h1v1h-1zM112 41h1v1h-1zM112 52h1v1h-1zM114 49h1v1h-1zM104 48h1v1h-1zM105 50h1v1h-1zM112 44h1v1h-1zM110 46h1v1h-1zM110 48h1v1h-1zM102 49h1v1h-1zM102 52h1v1h-1zM106 46h1v1h-1zM114 45h1v1h-1zM111 51h1v1h-1zM107 49h1v1h-1zM105 54h1v1h-1zM110 47h1v1h-1zM113 44h1v1h-1zM97 96h1v1h-1zM101 104h1v1h-1zM104 107h1v1h-1zM108 101h1v1h-1zM103 101h1v1h-1zM99 95h1v1h-1z" fill="#303030"/>
<path d="M93 57h1v1h-1zM74 64h1v1h-1zM75 60h1v1h-1zM91 53h1v1h-1zM96 56h1v1h-1zM81 58h1v1h-1zM99 55h1v1h-1zM90 50h1v1h-1zM90 53h1v1h-1zM90 56h1v1h-1zM74 57h1v1h-1zM77 56h1v1h-1zM93 53h1v1h-1zM79 62h1v1h-1zM92 55h1v1h-1zM72 63h1v1h-1zM82 55h1v1h-1zM85 55h1v1h-1zM86 52h1v1h-1zM77 59h1v1h-1zM97 57h1v1h-1zM76 57h1v1h-1zM94 58h1v1h-1zM95 57h1v1h-1zM84 56h1v1h-1zM86 60h1v1h-1zM72 62h1v1h-1zM93 58h1v1h-1zM81 54h1v1h-1zM82 54h1v1h-1zM80 56h1v1h-1zM77 62h1v1h-1zM81 62h1v1h-1zM85 62h1v1h-1zM94 52h1v1h-1zM87 61h1v1h-1zM82 56h1v1h-1zM89 59h1v1h-1zM79 57h1v1h-1zM78 63h1v1h-1zM75 63h1v1h-1zM85 54h1v1h-1zM101 56h1v1h-1zM110 52h1v1h-1zM101 53h1v1h-1zM111 48h1v1h-1zM109 51h1v1h-1zM115 48h1v1h-1zM108 53h1v1h-1zM102 51h1v1h-1zM105 55h1v1h-1zM113 51h1v1h-1zM104 50h1v1h-1zM103 48h1v1h-1zM109 50h1v1h-1zM112 45h1v1h-1zM113 49h1v1h-1zM108 44h1v1h-1zM104 53h1v1h-1zM112 46h1v1h-1zM113 42h1v1h-1zM100 53h1v1h-1zM100 51h1v1h-1zM117 52h1v1h-1zM115 51h1v1h-1zM104 52h1v1h-1zM115 50h1v1h-1zM104 51h1v1h-1zM111 53h1v1h-1zM104 54h1v1h-1zM106 54h1v1h-1zM108 47h1v1h-1zM110 53h1v1h-1zM103 56h1v1h-1zM100 50h1v1h-1zM99 53h1v1h-1zM119 50h1v1h-1zM102 100h1v1h-1zM103 102h1v1h-1zM103 99h1v1h-1zM100 94h1v1h-1zM101 106h1v1h-1zM105 105h1v1h-1zM106 101h1v1h-1zM101 99h1v1h-1zM105 106h1v1h-1zM104 95h1v1h-1zM101 103h1v1h-1zM109 101h1v1h-1zM102 103h1v1h-1zM104 103h1v1h-1z" fill="#404040"/>
<path d="M73 63h1v1h-1zM79 64h1v1h-1zM88 60h1v1h-1zM77 63h1v1h-1zM75 64h1v1h-1zM92 53h1v1h-1zM89 61h1v1h-1zM88 61h1v1h-1zM78 64h1v1h-1zM71 65h1v1h-1zM91 60h1v1h-1zM69 61h1v1h-1zM93 60h1v1h-1zM71 64h1v1h-1zM74 59h1v1h-1zM70 60h1v1h-1zM86 64h1v1h-1zM92 61h1v1h-1zM75 59h1v1h-1zM81 55h1v1h-1zM72 61h1v1h-1zM93 59h1v1h-1zM98 54h1v1h-1zM87 63h1v1h-1zM85 63h1v1h-1zM94 56h1v1h-1zM92 54h1v1h-1zM75 61h1v1h-1zM78 61h1v1h-1zM74 60h1v1h-1zM76 55h1v1h-1zM79 65h1v1h-1zM89 62h1v1h-1zM83 53h1v1h-1zM76 67h1v1h-1zM91 61h1v1h-1zM83 63h1v1h-1zM76 58h1v1h-1zM97 55h1v1h-1zM75 56h1v1h-1zM76 62h1v1h-1zM75 62h1v1h-1zM78 55h1v1h-1zM99 59h1v1h-1zM84 64h1v1h-1zM89 54h1v1h-1zM83 65h1v1h-1zM90 61h1v1h-1zM78 56h1v1h-1zM96 59h1v1h-1zM77 55h1v1h-1zM67 63h1v1h-1zM78 57h1v1h-1zM97 59h1v1h-1zM65 65h1v1h-1zM104 58h1v1h-1zM107 55h1v1h-1zM96 54h1v1h-1zM98 51h1v1h-1zM119 49h1v1h-1zM103 51h1v1h-1zM102 48h1v1h-1zM101 48h1v1h-1zM107 46h1v1h-1zM113 45h1v1h-1zM114 47h1v1h-1zM104 56h1v1h-1zM101 55h1v1h-1zM118 49h1v1h-1zM103 53h1v1h-1zM112 42h1v1h-1zM117 45h1v1h-1zM113 50h1v1h-1zM100 49h1v1h-1zM110 54h1v1h-1zM109 53h1v1h-1zM113 48h1v1h-1zM101 50h1v1h-1zM99 54h1v1h-1zM116 45h1v1h-1zM102 55h1v1h-1zM107 44h1v1h-1zM108 45h1v1h-1zM103 55h1v1h-1zM104 46h1v1h-1zM112 50h1v1h-1zM97 49h1v1h-1zM97 51h1v1h-1zM114 44h1v1h-1zM102 47h1v1h-1zM112 48h1v1h-1zM117 43h1v1h-1zM103 58h1v1h-1zM102 50h1v1h-1zM115 52h1v1h-1zM98 55h1v1h-1zM102 56h1v1h-1zM104 49h1v1h-1zM103 54h1v1h-1zM100 54h1v1h-1zM107 43h1v1h-1zM105 44h1v1h-1zM115 46h1v1h-1zM105 45h1v1h-1zM98 50h1v1h-1zM117 46h1v1h-1zM115 47h1v1h-1zM100 56h1v1h-1zM111 43h1v1h-1zM109 45h1v1h-1zM106 55h1v1h-1zM101 58h1v1h-1zM116 51h1v1h-1zM100 52h1v1h-1zM109 54h1v1h-1zM99 50h1v1h-1zM116 46h1v1h-1zM110 56h1v1h-1zM106 45h1v1h-1zM97 56h1v1h-1zM99 48h1v1h-1zM114 53h1v1h-1zM108 43h1v1h-1zM103 47h1v1h-1zM99 51h1v1h-1zM114 50h1v1h-1zM109 58h1v1h-1zM100 102h1v1h-1zM104 101h1v1h-1zM103 111h1v1h-1zM104 102h1v1h-1zM104 96h1v1h-1zM104 111h1v1h-1zM108 97h1v1h-1zM99 99h1v1h-1zM107 101h1v1h-1zM98 109h1v1h-1zM109 98h1v1h-1zM99 93h1v1h-1zM100 110h1v1h-1zM105 103h1v1h-1zM101 96h1v1h-1zM110 105h1v1h-1zM99 107h1v1h-1zM105 102h1v1h-1zM96 106h1v1h-1zM103 108h1v1h-1zM107 106h1v1h-1zM100 98h1v1h-1zM97 101h1v1h-1zM106 98h1v1h-1zM101 95h1v1h-1zM97 106h1v1h-1zM102 106h1v1h-1zM104 100h1v1h-1zM102 108h1v1h-1zM103 96h1v1h-1zM97 99h1v1h-1zM103 98h1v1h-1zM97 114h1v1h-1zM102 107h1v1h-1zM106 105h1v1h-1zM104 91h1v1h-1zM102 91h1v1h-1zM96 99h1v1h-1zM102 96h1v1h-1zM105 112h1v1h-1zM99 102h1v1h-1zM105 104h1v1h-1zM104 104h1v1h-1zM104 105h1v1h-1zM103 103h1v1h-1zM103 109h1v1h-1zM102 73h1v1h-1zM102 77h1v1h-1zM103 66h1v1h-1zM106 67h1v1h-1zM105 72h1v1h-1zM100 62h1v1h-1zM104 71h1v1h-1zM109 66h1v1h-1z" fill="#707070"/>
<path d="M90 58h1v1h-1zM73 57h1v1h-1zM71 61h1v1h-1zM91 51h1v1h-1zM72 55h1v1h-1zM71 60h1v1h-1zM95 49h1v1h-1zM67 62h1v1h-1zM69 63h1v1h-1zM80 54h1v1h-1zM92 58h1v1h-1zM96 51h1v1h-1zM100 57h1v1h-1zM87 51h1v1h-1zM83 55h1v1h-1zM77 54h1v1h-1zM82 65h1v1h-1zM84 65h1v1h-1zM87 53h1v1h-1zM82 52h1v1h-1zM79 56h1v1h-1zM90 51h1v1h-1zM80 65h1v1h-1zM73 66h1v1h-1zM80 63h1v1h-1zM95 54h1v1h-1zM72 65h1v1h-1zM87 64h1v1h-1zM81 50h1v1h-1zM74 65h1v1h-1zM97 50h1v1h-1zM68 67h1v1h-1zM91 52h1v1h-1zM88 55h1v1h-1zM78 66h1v1h-1zM97 48h1v1h-1zM73 64h1v1h-1zM89 51h1v1h-1zM99 52h1v1h-1zM84 54h1v1h-1zM96 48h1v1h-1zM90 63h1v1h-1zM68 63h1v1h-1zM87 52h1v1h-1zM70 62h1v1h-1zM72 56h1v1h-1zM70 61h1v1h-1zM96 57h1v1h-1zM79 55h1v1h-1zM83 52h1v1h-1zM75 55h1v1h-1zM74 62h1v1h-1zM96 58h1v1h-1zM95 59h1v1h-1zM96 52h1v1h-1zM82 63h1v1h-1zM85 51h1v1h-1zM94 55h1v1h-1zM90 55h1v1h-1zM96 60h1v1h-1zM86 62h1v1h-1zM91 59h1v1h-1zM93 56h1v1h-1zM94 53h1v1h-1zM75 58h1v1h-1zM86 53h1v1h-1zM72 60h1v1h-1zM75 67h1v1h-1zM74 56h1v1h-1zM71 58h1v1h-1zM99 62h1v1h-1zM80 52h1v1h-1zM83 68h1v1h-1zM95 56h1v1h-1zM92 63h1v1h-1zM92 62h1v1h-1zM73 65h1v1h-1zM97 53h1v1h-1zM79 53h1v1h-1zM68 65h1v1h-1zM70 57h1v1h-1zM98 57h1v1h-1zM92 51h1v1h-1zM76 53h1v1h-1zM70 59h1v1h-1zM88 63h1v1h-1zM69 58h1v1h-1zM73 62h1v1h-1zM76 63h1v1h-1zM92 60h1v1h-1zM92 48h1v1h-1zM68 59h1v1h-1zM98 61h1v1h-1zM71 54h1v1h-1zM69 53h1v1h-1zM84 50h1v1h-1zM72 58h1v1h-1zM87 66h1v1h-1zM95 50h1v1h-1zM99 60h1v1h-1zM88 54h1v1h-1zM93 62h1v1h-1zM96 61h1v1h-1zM120 45h1v1h-1zM114 41h1v1h-1zM114 51h1v1h-1zM107 56h1v1h-1zM98 48h1v1h-1zM114 40h1v1h-1zM97 58h1v1h-1zM120 43h1v1h-1zM95 51h1v1h-1zM101 52h1v1h-1zM104 61h1v1h-1zM105 56h1v1h-1zM99 47h1v1h-1zM109 43h1v1h-1zM110 41h1v1h-1zM110 42h1v1h-1zM116 44h1v1h-1zM88 52h1v1h-1zM118 45h1v1h-1zM115 37h1v1h-1zM97 62h1v1h-1zM100 47h1v1h-1zM117 51h1v1h-1zM95 48h1v1h-1zM96 47h1v1h-1zM94 54h1v1h-1zM103 57h1v1h-1zM111 57h1v1h-1zM106 56h1v1h-1zM104 55h1v1h-1zM114 52h1v1h-1zM116 43h1v1h-1zM116 42h1v1h-1zM116 48h1v1h-1zM111 56h1v1h-1zM113 46h1v1h-1zM116 49h1v1h-1zM102 57h1v1h-1zM109 42h1v1h-1zM98 46h1v1h-1zM117 48h1v1h-1zM115 40h1v1h-1zM112 43h1v1h-1zM119 41h1v1h-1zM102 45h1v1h-1zM120 44h1v1h-1zM118 39h1v1h-1zM102 53h1v1h-1zM103 44h1v1h-1zM106 41h1v1h-1zM104 44h1v1h-1zM96 53h1v1h-1zM111 45h1v1h-1zM111 41h1v1h-1zM107 45h1v1h-1zM119 46h1v1h-1zM93 48h1v1h-1zM106 40h1v1h-1zM104 47h1v1h-1zM110 45h1v1h-1zM110 39h1v1h-1zM107 41h1v1h-1zM102 58h1v1h-1zM115 49h1v1h-1zM98 56h1v1h-1zM107 53h1v1h-1zM102 62h1v1h-1zM119 37h1v1h-1zM119 52h1v1h-1zM120 46h1v1h-1zM113 53h1v1h-1zM105 43h1v1h-1zM108 55h1v1h-1zM125 46h1v1h-1zM112 51h1v1h-1zM113 52h1v1h-1zM111 58h1v1h-1zM104 45h1v1h-1zM102 41h1v1h-1zM98 47h1v1h-1zM102 60h1v1h-1zM117 47h1v1h-1zM92 47h1v1h-1zM108 54h1v1h-1zM106 58h1v1h-1zM113 41h1v1h-1zM105 46h1v1h-1zM100 46h1v1h-1zM106 50h1v1h-1zM101 54h1v1h-1zM118 43h1v1h-1zM93 52h1v1h-1zM101 44h1v1h-1zM103 45h1v1h-1zM109 41h1v1h-1zM121 52h1v1h-1zM122 47h1v1h-1zM131 46h1v1h-1zM117 41h1v1h-1zM105 60h1v1h-1zM104 59h1v1h-1zM102 44h1v1h-1zM112 37h1v1h-1zM107 62h1v1h-1zM122 50h1v1h-1zM114 35h1v1h-1zM99 57h1v1h-1zM109 56h1v1h-1zM131 37h1v1h-1zM105 61h1v1h-1zM90 46h1v1h-1zM97 63h1v1h-1zM108 59h1v1h-1zM114 57h1v1h-1zM94 50h1v1h-1zM100 48h1v1h-1zM117 49h1v1h-1zM115 54h1v1h-1zM117 59h1v1h-1zM100 60h1v1h-1zM98 52h1v1h-1zM113 55h1v1h-1zM110 55h1v1h-1zM109 60h1v1h-1zM127 47h1v1h-1zM96 49h1v1h-1zM106 104h1v1h-1zM100 100h1v1h-1zM98 96h1v1h-1zM106 100h1v1h-1zM103 113h1v1h-1zM102 99h1v1h-1zM109 102h1v1h-1zM98 103h1v1h-1zM104 89h1v1h-1zM103 94h1v1h-1zM106 94h1v1h-1zM108 108h1v1h-1zM101 105h1v1h-1zM107 90h1v1h-1zM105 99h1v1h-1zM109 100h1v1h-1zM103 114h1v1h-1zM100 104h1v1h-1zM94 103h1v1h-1zM104 93h1v1h-1zM107 103h1v1h-1zM99 98h1v1h-1zM98 112h1v1h-1zM100 99h1v1h-1zM107 109h1v1h-1zM97 94h1v1h-1zM107 100h1v1h-1zM104 99h1v1h-1zM107 107h1v1h-1zM106 97h1v1h-1zM96 112h1v1h-1zM107 97h1v1h-1zM94 108h1v1h-1zM99 109h1v1h-1zM109 107h1v1h-1zM107 96h1v1h-1zM110 99h1v1h-1zM106 109h1v1h-1zM102 102h1v1h-1zM103 97h1v1h-1zM99 101h1v1h-1zM105 94h1v1h-1zM96 113h1v1h-1zM101 93h1v1h-1zM96 97h1v1h-1zM106 108h1v1h-1zM102 104h1v1h-1zM112 99h1v1h-1zM105 101h1v1h-1zM101 109h1v1h-1zM100 106h1v1h-1zM98 94h1v1h-1zM97 113h1v1h-1zM105 95h1v1h-1zM103 93h1v1h-1zM97 108h1v1h-1zM97 90h1v1h-1zM109 99h1v1h-1zM101 108h1v1h-1zM106 114h1v1h-1zM98 101h1v1h-1zM99 91h1v1h-1zM105 107h1v1h-1zM95 102h1v1h-1zM100 95h1v1h-1zM102 114h1v1h-1zM106 110h1v1h-1zM103 95h1v1h-1zM109 95h1v1h-1zM98 92h1v1h-1zM107 110h1v1h-1zM101 94h1v1h-1zM103 105h1v1h-1zM98 87h1v1h-1zM104 98h1v1h-1zM108 103h1v1h-1zM107 105h1v1h-1zM104 113h1v1h-1zM105 114h1v1h-1zM109 105h1v1h-1zM107 104h1v1h-1zM98 102h1v1h-1zM104 115h1v1h-1zM110 102h1v1h-1zM97 105h1v1h-1zM100 105h1v1h-1zM111 98h1v1h-1zM102 93h1v1h-1zM110 104h1v1h-1zM102 94h1v1h-1zM105 110h1v1h-1zM106 102h1v1h-1zM98 113h1v1h-1zM106 111h1v1h-1zM91 106h1v1h-1zM96 104h1v1h-1zM99 100h1v1h-1zM111 104h1v1h-1zM100 88h1v1h-1zM107 102h1v1h-1zM105 91h1v1h-1zM97 93h1v1h-1zM97 103h1v1h-1zM106 99h1v1h-1zM107 108h1v1h-1zM98 105h1v1h-1zM99 104h1v1h-1zM108 113h1v1h-1zM102 101h1v1h-1zM104 112h1v1h-1zM108 99h1v1h-1zM105 100h1v1h-1zM103 100h1v1h-1zM105 113h1v1h-1zM105 109h1v1h-1zM108 109h1v1h-1zM109 94h1v1h-1zM110 103h1v1h-1zM97 102h1v1h-1zM100 101h1v1h-1zM94 92h1v1h-1zM98 107h1v1h-1zM98 91h1v1h-1zM102 92h1v1h-1zM109 96h1v1h-1zM100 92h1v1h-1zM96 108h1v1h-1zM101 107h1v1h-1zM106 106h1v1h-1zM109 85h1v1h-1zM109 93h1v1h-1zM100 112h1v1h-1zM104 90h1v1h-1zM108 110h1v1h-1zM101 111h1v1h-1zM100 108h1v1h-1zM94 99h1v1h-1zM96 110h1v1h-1zM99 87h1v1h-1zM106 103h1v1h-1zM100 84h1v1h-1zM105 108h1v1h-1zM103 92h1v1h-1zM108 104h1v1h-1zM98 98h1v1h-1zM98 97h1v1h-1zM104 70h1v1h-1zM108 76h1v1h-1zM111 67h1v1h-1zM102 83h1v1h-1zM105 73h1v1h-1zM101 61h1v1h-1zM108 66h1v1h-1zM104 68h1v1h-1zM105 64h1v1h-1zM102 64h1v1h-1zM107 70h1v1h-1zM102 65h1v1h-1zM108 69h1v1h-1zM104 72h1v1h-1zM113 71h1v1h-1zM112 84h1v1h-1zM98 79h1v1h-1zM109 80h1v1h-1zM103 77h1v1h-1zM101 69h1v1h-1zM104 84h1v1h-1zM104 64h1v1h-1zM105 75h1v1h-1zM100 75h1v1h-1zM105 68h1v1h-1zM99 56h1v1h-1zM101 71h1v1h-1zM96 73h1v1h-1zM106 72h1v1h-1zM100 70h1v1h-1zM104 78h1v1h-1zM100 76h1v1h-1zM107 72h1v1h-1zM103 59h1v1h-1zM112 55h1v1h-1zM105 66h1v1h-1zM104 74h1v1h-1zM106 65h1v1h-1zM107 73h1v1h-1zM108 65h1v1h-1zM99 72h1v1h-1zM106 81h1v1h-1zM109 69h1v1h-1zM109 71h1v1h-1zM103 60h1v1h-1zM104 79h1v1h-1zM98 62h1v1h-1zM109 81h1v1h-1zM111 65h1v1h-1zM106 64h1v1h-1zM104 80h1v1h-1zM86 92h1v1h-1zM81 98h1v1h-1zM70 97h1v1h-1zM90 113h1v1h-1zM43 80h1v1h-1zM57 105h1v1h-1zM123 97h1v1h-1zM82 108h1v1h-1zM70 89h1v1h-1zM86 88h1v1h-1zM99 94h1v1h-1zM71 106h1v1h-1zM65 109h1v1h-1zM79 108h1v1h-1zM53 87h1v1h-1zM88 101h1v1h-1zM85 100h1v1h-1zM56 92h1v1h-1zM84 92h1v1h-1zM81 102h1v1h-1zM63 88h1v1h-1zM48 108h1v1h-1zM61 74h1v1h-1zM178 50h1v1h-1zM176 62h1v1h-1zM52 106h1v1h-1zM59 28h1v1h-1zM85 52h1v1h-1zM180 102h1v1h-1zM103 73h1v1h-1zM163 97h1v1h-1zM136 71h1v1h-1zM61 48h1v1h-1z" fill="#a0a0a0"/>
<text x="42.50" y="28.80" font-size="3.8" text-anchor="start" fill="#222" stroke="#222" stroke-width="0.15">40.6</text>
<text x="175.20" y="28.80" font-size="3.8" text-anchor="start" fill="#222" stroke="#222" stroke-width="0.15">46.1</text>
<text x="43.00" y="114.60" font-size="3.8" text-anchor="start" fill="#222" stroke="#222" stroke-width="0.15">0.9</text>
<text x="176.00" y="114.60" font-size="3.8" text-anchor="start" fill="#222" stroke="#222" stroke-width="0.15">12.4</text>
<text x="0.50" y="15.50" font-size="3.6" text-anchor="start" textLength="43" lengthAdjust="spacingAndGlyphs" fill="#333">RO4432_35-28ECD4+</text>
<line x1="38.90" y1="116.40" x2="38.90" y2="119.00" stroke="#000" stroke-width="0.8"/>
<line x1="36.30" y1="116.40" x2="38.90" y2="116.40" stroke="#000" stroke-width="0.8"/>
<line x1="50.32" y1="116.40" x2="50.32" y2="117.80" stroke="#000" stroke-width="0.8"/>
<line x1="37.50" y1="109.42" x2="38.90" y2="109.42" stroke="#000" stroke-width="0.8"/>
<line x1="56.99" y1="116.40" x2="56.99" y2="117.80" stroke="#000" stroke-width="0.8"/>
<line x1="37.50" y1="105.33" x2="38.90" y2="105.33" stroke="#000" stroke-width="0.8"/>
<line x1="61.73" y1="116.40" x2="61.73" y2="117.80" stroke="#000" stroke-width="0.8"/>
<line x1="37.50" y1="102.43" x2="38.90" y2="102.43" stroke="#000" stroke-width="0.8"/>
<line x1="65.41" y1="116.40" x2="65.41" y2="117.80" stroke="#000" stroke-width="0.8"/>
<line x1="37.50" y1="100.18" x2="38.90" y2="100.18" stroke="#000" stroke-width="0.8"/>
<line x1="68.41" y1="116.40" x2="68.41" y2="117.80" stroke="#000" stroke-width="0.8"/>
<line x1="37.50" y1="98.35" x2="38.90" y2="98.35" stroke="#000" stroke-width="0.8"/>
<line x1="70.95" y1="116.40" x2="70.95" y2="117.80" stroke="#000" stroke-width="0.8"/>
<line x1="37.50" y1="96.79" x2="38.90" y2="96.79" stroke="#000" stroke-width="0.8"/>
<line x1="73.15" y1="116.40" x2="73.15" y2="117.80" stroke="#000" stroke-width="0.8"/>
<line x1="37.50" y1="95.45" x2="38.90" y2="95.45" stroke="#000" stroke-width="0.8"/>
<line x1="75.09" y1="116.40" x2="75.09" y2="117.80" stroke="#000" stroke-width="0.8"/>
<line x1="37.50" y1="94.26" x2="38.90" y2="94.26" stroke="#000" stroke-width="0.8"/>
<line x1="76.82" y1="116.40" x2="76.82" y2="119.00" stroke="#000" stroke-width="0.8"/>
<line x1="36.30" y1="93.20" x2="38.90" y2="93.20" stroke="#000" stroke-width="0.8"/>
<line x1="88.24" y1="116.40" x2="88.24" y2="117.80" stroke="#000" stroke-width="0.8"/>
<line x1="37.50" y1="86.22" x2="38.90" y2="86.22" stroke="#000" stroke-width="0.8"/>
<line x1="94.92" y1="116.40" x2="94.92" y2="117.80" stroke="#000" stroke-width="0.8"/>
<line x1="37.50" y1="82.13" x2="38.90" y2="82.13" stroke="#000" stroke-width="0.8"/>
<line x1="99.66" y1="116.40" x2="99.66" y2="117.80" stroke="#000" stroke-width="0.8"/>
<line x1="37.50" y1="79.23" x2="38.90" y2="79.23" stroke="#000" stroke-width="0.8"/>
<line x1="103.33" y1="116.40" x2="103.33" y2="117.80" stroke="#000" stroke-width="0.8"/>
<line x1="37.50" y1="76.98" x2="38.90" y2="76.98" stroke="#000" stroke-width="0.8"/>
<line x1="106.34" y1="116.40" x2="106.34" y2="117.80" stroke="#000" stroke-width="0.8"/>
<line x1="37.50" y1="75.15" x2="38.90" y2="75.15" stroke="#000" stroke-width="0.8"/>
<line x1="108.88" y1="116.40" x2="108.88" y2="117.80" stroke="#000" stroke-width="0.8"/>
<line x1="37.50" y1="73.59" x2="38.90" y2="73.59" stroke="#000" stroke-width="0.8"/>
<line x1="111.07" y1="116.40" x2="111.07" y2="117.80" stroke="#000" stroke-width="0.8"/>
<line x1="37.50" y1="72.25" x2="38.90" y2="72.25" stroke="#000" stroke-width="0.8"/>
<line x1="113.01" y1="116.40" x2="113.01" y2="117.80" stroke="#000" stroke-width="0.8"/>
<line x1="37.50" y1="71.06" x2="38.90" y2="71.06" stroke="#000" stroke-width="0.8"/>
<line x1="114.75" y1="116.40" x2="114.75" y2="119.00" stroke="#000" stroke-width="0.8"/>
<line x1="36.30" y1="70.00" x2="38.90" y2="70.00" stroke="#000" stroke-width="0.8"/>
<line x1="126.17" y1="116.40" x2="126.17" y2="117.80" stroke="#000" stroke-width="0.8"/>
<line x1="37.50" y1="63.02" x2="38.90" y2="63.02" stroke="#000" stroke-width="0.8"/>
<line x1="132.84" y1="116.40" x2="132.84" y2="117.80" stroke="#000" stroke-width="0.8"/>
<line x1="37.50" y1="58.93" x2="38.90" y2="58.93" stroke="#000" stroke-width="0.8"/>
<line x1="137.58" y1="116.40" x2="137.58" y2="117.80" stroke="#000" stroke-width="0.8"/>
<line x1="37.50" y1="56.03" x2="38.90" y2="56.03" stroke="#000" stroke-width="0.8"/>
<line x1="141.26" y1="116.40" x2="141.26" y2="117.80" stroke="#000" stroke-width="0.8"/>
<line x1="37.50" y1="53.78" x2="38.90" y2="53.78" stroke="#000" stroke-width="0.8"/>
<line x1="144.26" y1="116.40" x2="144.26" y2="117.80" stroke="#000" stroke-width="0.8"/>
<line x1="37.50" y1="51.95" x2="38.90" y2="51.95" stroke="#000" stroke-width="0.8"/>
<line x1="146.80" y1="116.40" x2="146.80" y2="117.80" stroke="#000" stroke-width="0.8"/>
<line x1="37.50" y1="50.39" x2="38.90" y2="50.39" stroke="#000" stroke-width="0.8"/>
<line x1="149.00" y1="116.40" x2="149.00" y2="117.80" stroke="#000" stroke-width="0.8"/>
<line x1="37.50" y1="49.05" x2="38.90" y2="49.05" stroke="#000" stroke-width="0.8"/>
<line x1="150.94" y1="116.40" x2="150.94" y2="117.80" stroke="#000" stroke-width="0.8"/>
<line x1="37.50" y1="47.86" x2="38.90" y2="47.86" stroke="#000" stroke-width="0.8"/>
<line x1="152.67" y1="116.40" x2="152.67" y2="119.00" stroke="#000" stroke-width="0.8"/>
<line x1="36.30" y1="46.80" x2="38.90" y2="46.80" stroke="#000" stroke-width="0.8"/>
<line x1="164.09" y1="116.40" x2="164.09" y2="117.80" stroke="#000" stroke-width="0.8"/>
<line x1="37.50" y1="39.82" x2="38.90" y2="39.82" stroke="#000" stroke-width="0.8"/>
<line x1="170.77" y1="116.40" x2="170.77" y2="117.80" stroke="#000" stroke-width="0.8"/>
<line x1="37.50" y1="35.73" x2="38.90" y2="35.73" stroke="#000" stroke-width="0.8"/>
<line x1="175.51" y1="116.40" x2="175.51" y2="117.80" stroke="#000" stroke-width="0.8"/>
<line x1="37.50" y1="32.83" x2="38.90" y2="32.83" stroke="#000" stroke-width="0.8"/>
<line x1="179.18" y1="116.40" x2="179.18" y2="117.80" stroke="#000" stroke-width="0.8"/>
<line x1="37.50" y1="30.58" x2="38.90" y2="30.58" stroke="#000" stroke-width="0.8"/>
<line x1="182.19" y1="116.40" x2="182.19" y2="117.80" stroke="#000" stroke-width="0.8"/>
<line x1="37.50" y1="28.75" x2="38.90" y2="28.75" stroke="#000" stroke-width="0.8"/>
<line x1="184.73" y1="116.40" x2="184.73" y2="117.80" stroke="#000" stroke-width="0.8"/>
<line x1="37.50" y1="27.19" x2="38.90" y2="27.19" stroke="#000" stroke-width="0.8"/>
<line x1="186.92" y1="116.40" x2="186.92" y2="117.80" stroke="#000" stroke-width="0.8"/>
<line x1="37.50" y1="25.85" x2="38.90" y2="25.85" stroke="#000" stroke-width="0.8"/>
<line x1="188.86" y1="116.40" x2="188.86" y2="117.80" stroke="#000" stroke-width="0.8"/>
<line x1="37.50" y1="24.66" x2="38.90" y2="24.66" stroke="#000" stroke-width="0.8"/>
<line x1="190.60" y1="116.40" x2="190.60" y2="119.00" stroke="#000" stroke-width="0.8"/>
<line x1="36.30" y1="23.60" x2="38.90" y2="23.60" stroke="#000" stroke-width="0.8"/>
<text x="35.90" y="126.00" font-size="3.8" text-anchor="middle" fill="#555">10</text>
<text x="42.20" y="122.80" font-size="2.8" text-anchor="middle" fill="#555">0</text>
<text x="24.20" y="118.30" font-size="3.8" text-anchor="middle" fill="#555">10</text>
<text x="30.40" y="115.80" font-size="2.8" text-anchor="middle" fill="#555">0</text>
<text x="73.82" y="126.00" font-size="3.8" text-anchor="middle" fill="#555">10</text>
<text x="80.12" y="122.80" font-size="2.8" text-anchor="middle" fill="#555">1</text>
<text x="24.20" y="95.10" font-size="3.8" text-anchor="middle" fill="#555">10</text>
<text x="30.40" y="92.60" font-size="2.8" text-anchor="middle" fill="#555">1</text>
<text x="111.75" y="126.00" font-size="3.8" text-anchor="middle" fill="#555">10</text>
<text x="118.05" y="122.80" font-size="2.8" text-anchor="middle" fill="#555">2</text>
<text x="24.20" y="71.90" font-size="3.8" text-anchor="middle" fill="#555">10</text>
<text x="30.40" y="69.40" font-size="2.8" text-anchor="middle" fill="#555">2</text>
<text x="149.67" y="126.00" font-size="3.8" text-anchor="middle" fill="#555">10</text>
<text x="155.97" y="122.80" font-size="2.8" text-anchor="middle" fill="#555">3</text>
<text x="24.20" y="48.70" font-size="3.8" text-anchor="middle" fill="#555">10</text>
<text x="30.40" y="46.20" font-size="2.8" text-anchor="middle" fill="#555">3</text>
<text x="187.60" y="126.00" font-size="3.8" text-anchor="middle" fill="#555">10</text>
<text x="193.90" y="122.80" font-size="2.8" text-anchor="middle" fill="#555">4</text>
<text x="24.20" y="25.50" font-size="3.8" text-anchor="middle" fill="#555">10</text>
<text x="30.40" y="23.00" font-size="2.8" text-anchor="middle" fill="#555">4</text>
<text x="71.90" y="140.60" font-size="14.0" text-anchor="start" textLength="35.2" lengthAdjust="spacingAndGlyphs">CD95</text>
<text x="16.50" y="90.40" font-size="13.9" text-anchor="start" textLength="35.4" lengthAdjust="spacingAndGlyphs" transform="rotate(-90 16.50 90.40)">CD28</text>
</svg>
</body></html>
